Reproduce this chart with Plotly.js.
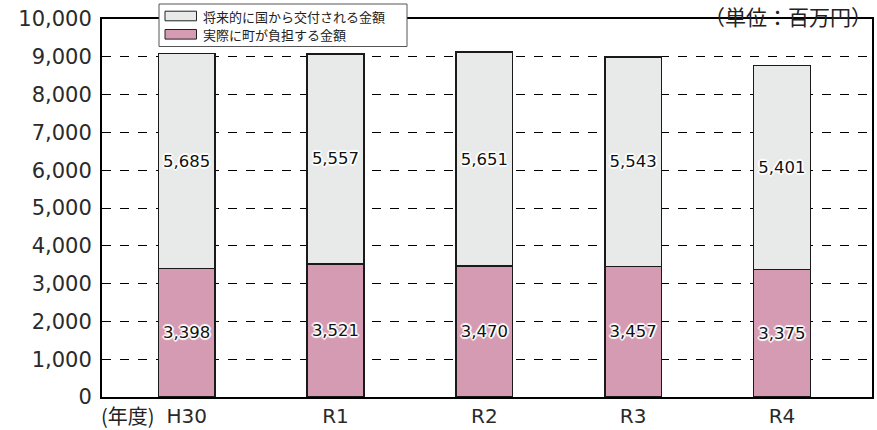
<!DOCTYPE html>
<html><head><meta charset="utf-8">
<script src="https://cdn.plot.ly/plotly-3.0.1.min.js"></script>
<style>html,body{margin:0;padding:0;background:#fff}</style>
</head><body><div id="chart" style="width:877px;height:430px"></div>
<script>
const categories = ['H30', 'R1', 'R2', 'R3', 'R4'];
const townBurden = [3398, 3521, 3470, 3457, 3375];
const nationalGrant = [5685, 5557, 5651, 5543, 5401];
const seriesNames = ['実際に町が負担する金額', '将来的に国から交付される金額'];
const seriesColors = ['#d49bb3', '#e8e9e9'];
const yTicks = [0, 1000, 2000, 3000, 4000, 5000, 6000, 7000, 8000, 9000, 10000];
const unitLabel = '（単位：百万円）';
const yearLabel = '(年度)';

const JP = '"Noto Sans CJK JP", "Noto Sans", sans-serif';
const NUM = '"DejaVu Sans", "Noto Sans", sans-serif';
const shadow = '1px 1px 1px #fff, -1px -1px 1px #fff, 1px -1px 1px #fff, -1px 1px 1px #fff, 0px 2px 1px #fff, 0px -2px 1px #fff, 2px 0px 1px #fff, -2px 0px 1px #fff';
const fmt = v => v.toLocaleString('en-US');

const W = 877, H = 430, L = 102, R = 5, T = 19, B = 33;
const pw = W - L - R, ph = H - T - B;
const px = x => (x - L) / pw;          // pixel -> paper x
const py = y => (H - B - y) / ph;      // pixel -> paper y

const series = [townBurden, nationalGrant];
const traces = series.map((vals, i) => ({
  type:'bar', x:categories, y:vals, name:seriesNames[i],
  marker:{color:seriesColors[i], line:{color:'#1a1a1a', width:1.5}},
  text:vals.map(fmt), textposition:'inside', insidetextanchor:'middle',
  textangle:0, constraintext:'none',
  textfont:{family:NUM, size:16.5, color:'#111', shadow:shadow},
  width:0.381, hoverinfo:'none', showlegend:false
}));

// custom legend (swatches + texts) drawn on top of the frame
const legendOrder = [1, 0];
const shapes = [
  {type:'rect', xref:'paper', yref:'paper', x0:px(159), x1:px(407), y0:py(4), y1:py(46.5),
   fillcolor:'#fff', line:{color:'#555', width:1}, layer:'above'}
];
const annotations = [
  {text:unitLabel, xref:'paper', yref:'paper', x:px(874), y:py(-1), xanchor:'right', yanchor:'top',
   showarrow:false, font:{family:JP, size:21, color:'#222'}},
  {text:yearLabel, xref:'paper', yref:'paper', x:px(128), y:py(415), xanchor:'center', yanchor:'middle',
   showarrow:false, font:{family:JP, size:20, color:'#222'}}
];
legendOrder.forEach((si, k) => {
  const yc = 16 + k * 18.3;
  shapes.push({type:'rect', xref:'paper', yref:'paper', x0:px(165), x1:px(196.5), y0:py(yc - 4.8), y1:py(yc + 4.8),
    fillcolor:seriesColors[si], line:{color:'#222', width:1}, layer:'above'});
  annotations.push({text:seriesNames[si], xref:'paper', yref:'paper', x:px(201), y:py(yc), xanchor:'left', yanchor:'middle',
    showarrow:false, font:{family:JP, size:13, color:'#222'}});
});

const layout = {
  width:W, height:H,
  margin:{l:L, r:R, t:T, b:B, autoexpand:false},
  barmode:'stack',
  paper_bgcolor:'#fff', plot_bgcolor:'#fff',
  font:{family:NUM, color:'#222'},
  showlegend:false,
  xaxis:{type:'category', range:[-0.569, 4.605], showgrid:false, ticks:'',
         tickfont:{family:NUM, size:20, color:'#2a2a2a'}, showline:true, linecolor:'#000', linewidth:2, mirror:true,
         fixedrange:true, automargin:false},
  yaxis:{range:[0, 10000], tickvals:yTicks, ticktext:yTicks.map(fmt), ticks:'',
         tickfont:{family:NUM, size:21, color:'#2a2a2a'}, ticklabelstandoff:4,
         showgrid:true, gridcolor:'#000', griddash:'dash', gridwidth:1,
         showline:true, linecolor:'#000', linewidth:2, mirror:true, zeroline:false, fixedrange:true, automargin:false},
  shapes:shapes,
  annotations:annotations
};

Plotly.newPlot('chart', traces, layout, {displayModeBar:false, staticPlot:true});
</script></body></html>
